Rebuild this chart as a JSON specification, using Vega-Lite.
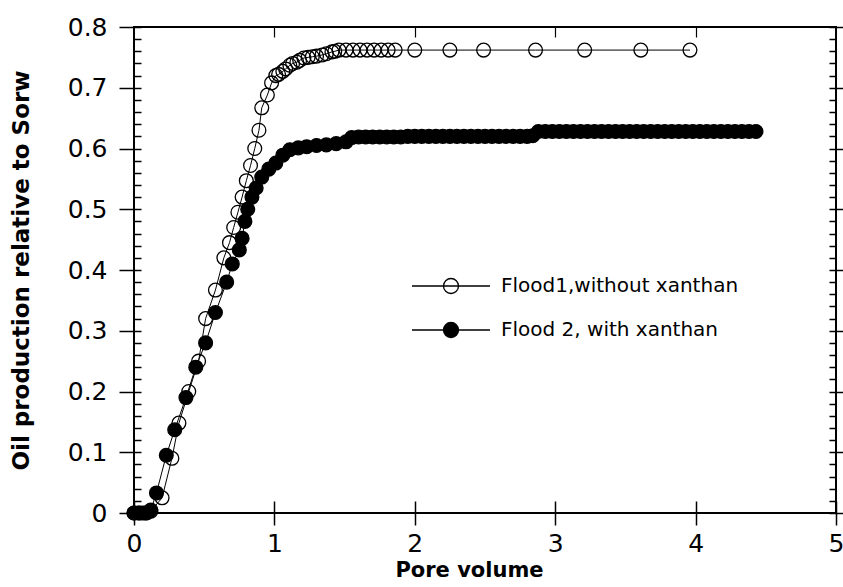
{
  "$schema": "https://vega.github.io/schema/vega-lite/v6.json",
  "width": 702,
  "height": 486,
  "autosize": "none",
  "padding": {"left": 134, "top": 27, "right": 7, "bottom": 74},
  "background": "white",
  "config": {
    "view": {"stroke": "black", "strokeWidth": 2},
    "axis": {"grid": false, "domain": false, "tickColor": "black", "labelColor": "black", "titleColor": "black", "labelFont": "DejaVu Sans", "titleFont": "DejaVu Sans", "labelOverlap": false, "labelBound": false, "labelFlush": false}
  },
  "data": {"values": [
    {"series": "Flood1,without xanthan", "pv": 0.00, "oil": 0.000},
    {"series": "Flood1,without xanthan", "pv": 0.04, "oil": 0.000},
    {"series": "Flood1,without xanthan", "pv": 0.08, "oil": 0.000},
    {"series": "Flood1,without xanthan", "pv": 0.12, "oil": 0.003},
    {"series": "Flood1,without xanthan", "pv": 0.20, "oil": 0.025},
    {"series": "Flood1,without xanthan", "pv": 0.27, "oil": 0.090},
    {"series": "Flood1,without xanthan", "pv": 0.32, "oil": 0.148},
    {"series": "Flood1,without xanthan", "pv": 0.39, "oil": 0.200},
    {"series": "Flood1,without xanthan", "pv": 0.46, "oil": 0.250},
    {"series": "Flood1,without xanthan", "pv": 0.51, "oil": 0.320},
    {"series": "Flood1,without xanthan", "pv": 0.58, "oil": 0.367},
    {"series": "Flood1,without xanthan", "pv": 0.64, "oil": 0.420},
    {"series": "Flood1,without xanthan", "pv": 0.68, "oil": 0.445},
    {"series": "Flood1,without xanthan", "pv": 0.71, "oil": 0.470},
    {"series": "Flood1,without xanthan", "pv": 0.74, "oil": 0.495},
    {"series": "Flood1,without xanthan", "pv": 0.77, "oil": 0.520},
    {"series": "Flood1,without xanthan", "pv": 0.80, "oil": 0.547},
    {"series": "Flood1,without xanthan", "pv": 0.83, "oil": 0.572},
    {"series": "Flood1,without xanthan", "pv": 0.86, "oil": 0.600},
    {"series": "Flood1,without xanthan", "pv": 0.89, "oil": 0.630},
    {"series": "Flood1,without xanthan", "pv": 0.91, "oil": 0.667},
    {"series": "Flood1,without xanthan", "pv": 0.95, "oil": 0.688},
    {"series": "Flood1,without xanthan", "pv": 0.98, "oil": 0.708},
    {"series": "Flood1,without xanthan", "pv": 1.01, "oil": 0.720},
    {"series": "Flood1,without xanthan", "pv": 1.03, "oil": 0.722},
    {"series": "Flood1,without xanthan", "pv": 1.06, "oil": 0.727},
    {"series": "Flood1,without xanthan", "pv": 1.08, "oil": 0.731},
    {"series": "Flood1,without xanthan", "pv": 1.11, "oil": 0.737},
    {"series": "Flood1,without xanthan", "pv": 1.13, "oil": 0.740},
    {"series": "Flood1,without xanthan", "pv": 1.16, "oil": 0.742},
    {"series": "Flood1,without xanthan", "pv": 1.18, "oil": 0.745},
    {"series": "Flood1,without xanthan", "pv": 1.21, "oil": 0.749},
    {"series": "Flood1,without xanthan", "pv": 1.24, "oil": 0.750},
    {"series": "Flood1,without xanthan", "pv": 1.27, "oil": 0.751},
    {"series": "Flood1,without xanthan", "pv": 1.30, "oil": 0.752},
    {"series": "Flood1,without xanthan", "pv": 1.34, "oil": 0.754},
    {"series": "Flood1,without xanthan", "pv": 1.37, "oil": 0.756},
    {"series": "Flood1,without xanthan", "pv": 1.41, "oil": 0.759},
    {"series": "Flood1,without xanthan", "pv": 1.43, "oil": 0.760},
    {"series": "Flood1,without xanthan", "pv": 1.46, "oil": 0.762},
    {"series": "Flood1,without xanthan", "pv": 1.51, "oil": 0.762},
    {"series": "Flood1,without xanthan", "pv": 1.56, "oil": 0.762},
    {"series": "Flood1,without xanthan", "pv": 1.61, "oil": 0.762},
    {"series": "Flood1,without xanthan", "pv": 1.66, "oil": 0.762},
    {"series": "Flood1,without xanthan", "pv": 1.71, "oil": 0.762},
    {"series": "Flood1,without xanthan", "pv": 1.76, "oil": 0.762},
    {"series": "Flood1,without xanthan", "pv": 1.81, "oil": 0.762},
    {"series": "Flood1,without xanthan", "pv": 1.86, "oil": 0.762},
    {"series": "Flood1,without xanthan", "pv": 2.00, "oil": 0.762},
    {"series": "Flood1,without xanthan", "pv": 2.25, "oil": 0.762},
    {"series": "Flood1,without xanthan", "pv": 2.49, "oil": 0.762},
    {"series": "Flood1,without xanthan", "pv": 2.86, "oil": 0.762},
    {"series": "Flood1,without xanthan", "pv": 3.21, "oil": 0.762},
    {"series": "Flood1,without xanthan", "pv": 3.61, "oil": 0.762},
    {"series": "Flood1,without xanthan", "pv": 3.96, "oil": 0.762},

    {"series": "Flood 2, with xanthan", "pv": 0.00, "oil": 0.000},
    {"series": "Flood 2, with xanthan", "pv": 0.03, "oil": 0.000},
    {"series": "Flood 2, with xanthan", "pv": 0.06, "oil": 0.000},
    {"series": "Flood 2, with xanthan", "pv": 0.09, "oil": 0.000},
    {"series": "Flood 2, with xanthan", "pv": 0.12, "oil": 0.005},
    {"series": "Flood 2, with xanthan", "pv": 0.16, "oil": 0.033},
    {"series": "Flood 2, with xanthan", "pv": 0.23, "oil": 0.095},
    {"series": "Flood 2, with xanthan", "pv": 0.29, "oil": 0.137},
    {"series": "Flood 2, with xanthan", "pv": 0.37, "oil": 0.190},
    {"series": "Flood 2, with xanthan", "pv": 0.44, "oil": 0.240},
    {"series": "Flood 2, with xanthan", "pv": 0.51, "oil": 0.280},
    {"series": "Flood 2, with xanthan", "pv": 0.58, "oil": 0.330},
    {"series": "Flood 2, with xanthan", "pv": 0.66, "oil": 0.380},
    {"series": "Flood 2, with xanthan", "pv": 0.70, "oil": 0.410},
    {"series": "Flood 2, with xanthan", "pv": 0.75, "oil": 0.433},
    {"series": "Flood 2, with xanthan", "pv": 0.77, "oil": 0.452},
    {"series": "Flood 2, with xanthan", "pv": 0.79, "oil": 0.480},
    {"series": "Flood 2, with xanthan", "pv": 0.81, "oil": 0.500},
    {"series": "Flood 2, with xanthan", "pv": 0.84, "oil": 0.520},
    {"series": "Flood 2, with xanthan", "pv": 0.87, "oil": 0.535},
    {"series": "Flood 2, with xanthan", "pv": 0.91, "oil": 0.553},
    {"series": "Flood 2, with xanthan", "pv": 0.96, "oil": 0.566},
    {"series": "Flood 2, with xanthan", "pv": 1.01, "oil": 0.576},
    {"series": "Flood 2, with xanthan", "pv": 1.06, "oil": 0.589},
    {"series": "Flood 2, with xanthan", "pv": 1.11, "oil": 0.598},
    {"series": "Flood 2, with xanthan", "pv": 1.17, "oil": 0.601},
    {"series": "Flood 2, with xanthan", "pv": 1.23, "oil": 0.603},
    {"series": "Flood 2, with xanthan", "pv": 1.30, "oil": 0.605},
    {"series": "Flood 2, with xanthan", "pv": 1.37, "oil": 0.606},
    {"series": "Flood 2, with xanthan", "pv": 1.44, "oil": 0.608},
    {"series": "Flood 2, with xanthan", "pv": 1.51, "oil": 0.611},
    {"series": "Flood 2, with xanthan", "pv": 1.55, "oil": 0.618},
    {"series": "Flood 2, with xanthan", "pv": 1.60, "oil": 0.619},
    {"series": "Flood 2, with xanthan", "pv": 1.65, "oil": 0.619},
    {"series": "Flood 2, with xanthan", "pv": 1.70, "oil": 0.619},
    {"series": "Flood 2, with xanthan", "pv": 1.75, "oil": 0.619},
    {"series": "Flood 2, with xanthan", "pv": 1.80, "oil": 0.619},
    {"series": "Flood 2, with xanthan", "pv": 1.85, "oil": 0.619},
    {"series": "Flood 2, with xanthan", "pv": 1.90, "oil": 0.619},
    {"series": "Flood 2, with xanthan", "pv": 1.95, "oil": 0.620},
    {"series": "Flood 2, with xanthan", "pv": 2.00, "oil": 0.620},
    {"series": "Flood 2, with xanthan", "pv": 2.05, "oil": 0.620},
    {"series": "Flood 2, with xanthan", "pv": 2.10, "oil": 0.620},
    {"series": "Flood 2, with xanthan", "pv": 2.15, "oil": 0.620},
    {"series": "Flood 2, with xanthan", "pv": 2.20, "oil": 0.620},
    {"series": "Flood 2, with xanthan", "pv": 2.25, "oil": 0.620},
    {"series": "Flood 2, with xanthan", "pv": 2.30, "oil": 0.620},
    {"series": "Flood 2, with xanthan", "pv": 2.35, "oil": 0.620},
    {"series": "Flood 2, with xanthan", "pv": 2.40, "oil": 0.620},
    {"series": "Flood 2, with xanthan", "pv": 2.45, "oil": 0.620},
    {"series": "Flood 2, with xanthan", "pv": 2.50, "oil": 0.620},
    {"series": "Flood 2, with xanthan", "pv": 2.55, "oil": 0.620},
    {"series": "Flood 2, with xanthan", "pv": 2.60, "oil": 0.620},
    {"series": "Flood 2, with xanthan", "pv": 2.65, "oil": 0.620},
    {"series": "Flood 2, with xanthan", "pv": 2.70, "oil": 0.620},
    {"series": "Flood 2, with xanthan", "pv": 2.75, "oil": 0.620},
    {"series": "Flood 2, with xanthan", "pv": 2.80, "oil": 0.620},
    {"series": "Flood 2, with xanthan", "pv": 2.84, "oil": 0.621},
    {"series": "Flood 2, with xanthan", "pv": 2.88, "oil": 0.628},
    {"series": "Flood 2, with xanthan", "pv": 2.93, "oil": 0.628},
    {"series": "Flood 2, with xanthan", "pv": 2.98, "oil": 0.628},
    {"series": "Flood 2, with xanthan", "pv": 3.03, "oil": 0.628},
    {"series": "Flood 2, with xanthan", "pv": 3.08, "oil": 0.628},
    {"series": "Flood 2, with xanthan", "pv": 3.13, "oil": 0.628},
    {"series": "Flood 2, with xanthan", "pv": 3.18, "oil": 0.628},
    {"series": "Flood 2, with xanthan", "pv": 3.23, "oil": 0.628},
    {"series": "Flood 2, with xanthan", "pv": 3.28, "oil": 0.628},
    {"series": "Flood 2, with xanthan", "pv": 3.33, "oil": 0.628},
    {"series": "Flood 2, with xanthan", "pv": 3.38, "oil": 0.628},
    {"series": "Flood 2, with xanthan", "pv": 3.43, "oil": 0.628},
    {"series": "Flood 2, with xanthan", "pv": 3.48, "oil": 0.628},
    {"series": "Flood 2, with xanthan", "pv": 3.53, "oil": 0.628},
    {"series": "Flood 2, with xanthan", "pv": 3.58, "oil": 0.628},
    {"series": "Flood 2, with xanthan", "pv": 3.63, "oil": 0.628},
    {"series": "Flood 2, with xanthan", "pv": 3.68, "oil": 0.628},
    {"series": "Flood 2, with xanthan", "pv": 3.73, "oil": 0.628},
    {"series": "Flood 2, with xanthan", "pv": 3.78, "oil": 0.628},
    {"series": "Flood 2, with xanthan", "pv": 3.83, "oil": 0.628},
    {"series": "Flood 2, with xanthan", "pv": 3.88, "oil": 0.628},
    {"series": "Flood 2, with xanthan", "pv": 3.93, "oil": 0.628},
    {"series": "Flood 2, with xanthan", "pv": 3.98, "oil": 0.628},
    {"series": "Flood 2, with xanthan", "pv": 4.03, "oil": 0.628},
    {"series": "Flood 2, with xanthan", "pv": 4.08, "oil": 0.628},
    {"series": "Flood 2, with xanthan", "pv": 4.13, "oil": 0.628},
    {"series": "Flood 2, with xanthan", "pv": 4.18, "oil": 0.628},
    {"series": "Flood 2, with xanthan", "pv": 4.23, "oil": 0.628},
    {"series": "Flood 2, with xanthan", "pv": 4.28, "oil": 0.628},
    {"series": "Flood 2, with xanthan", "pv": 4.33, "oil": 0.628},
    {"series": "Flood 2, with xanthan", "pv": 4.38, "oil": 0.628},
    {"series": "Flood 2, with xanthan", "pv": 4.43, "oil": 0.628}
  ]},
  "resolve": {"axis": {"x": "independent", "y": "independent"}},
  "layer": [
    {
      "mark": {"type": "line", "color": "black", "strokeWidth": 1},
      "encoding": {
        "x": {"field": "pv", "type": "quantitative", "scale": {"domain": [0, 5], "nice": false, "zero": false},
          "axis": {"orient": "bottom", "values": [0, 1, 2, 3, 4, 5], "offset": -12, "tickSize": 24, "tickWidth": 1.5,
            "labelFontSize": 25, "labelPadding": 6, "title": "Pore volume", "titleFontSize": 21, "titleFontWeight": "bold", "titlePadding": 3, "titleX": 335}},
        "y": {"field": "oil", "type": "quantitative", "scale": {"domain": [0, 0.8], "nice": false, "zero": false},
          "axis": {"orient": "left", "offset": -7,
            "values": [0, 0.02, 0.04, 0.06, 0.08, 0.1, 0.12, 0.14, 0.16, 0.18, 0.2, 0.22, 0.24, 0.26, 0.28, 0.3, 0.32, 0.34, 0.36, 0.38, 0.4, 0.42, 0.44, 0.46, 0.48, 0.5, 0.52, 0.54, 0.56, 0.58, 0.6, 0.62, 0.64, 0.66, 0.68, 0.7, 0.72, 0.74, 0.76, 0.78, 0.8],
            "tickSize": {"condition": {"test": "abs(datum.value*10 - round(datum.value*10)) < 0.001", "value": 22}, "value": 7},
            "tickWidth": 1.5,
            "labelExpr": "abs(datum.value*10 - round(datum.value*10)) < 0.001 ? format(datum.value, '.1~f') : ''",
            "labelFontSize": 25, "labelPadding": 12,
            "title": "Oil production relative to Sorw", "titleFontSize": 23, "titleFontWeight": "bold", "titlePadding": 34}},
        "detail": {"field": "series", "type": "nominal"}
      }
    },
    {
      "mark": {"type": "point", "shape": "circle", "size": 190, "stroke": "black", "strokeWidth": 1.3, "opacity": 1, "fillOpacity": 1},
      "encoding": {
        "x": {"field": "pv", "type": "quantitative",
          "axis": {"orient": "top", "values": [1, 2, 3, 4], "offset": -10, "tickSize": 10, "tickWidth": 1.2, "labels": false, "title": null}},
        "y": {"field": "oil", "type": "quantitative",
          "axis": {"orient": "right", "offset": -7,
            "values": [0, 0.02, 0.04, 0.06, 0.08, 0.1, 0.12, 0.14, 0.16, 0.18, 0.2, 0.22, 0.24, 0.26, 0.28, 0.3, 0.32, 0.34, 0.36, 0.38, 0.4, 0.42, 0.44, 0.46, 0.48, 0.5, 0.52, 0.54, 0.56, 0.58, 0.6, 0.62, 0.64, 0.66, 0.68, 0.7, 0.72, 0.74, 0.76, 0.78, 0.8],
            "tickSize": {"condition": {"test": "abs(datum.value*10 - round(datum.value*10)) < 0.001", "value": 22}, "value": 7},
            "tickWidth": 1.5, "labels": false, "title": null}},
        "fill": {"field": "series", "type": "nominal",
          "scale": {"domain": ["Flood1,without xanthan", "Flood 2, with xanthan"], "range": ["transparent", "black"]},
          "legend": {"title": null, "orient": "none", "legendX": 307, "legendY": 249,
            "symbolType": "M-5.2,0H5.2M1,0A1,1 0 1,1 -1,0A1,1 0 1,1 1,0Z",
            "symbolSize": 225, "symbolStrokeColor": "black", "symbolStrokeWidth": 1.3,
            "labelFont": "DejaVu Sans", "labelFontSize": 20, "labelColor": "black", "labelOffset": 40, "labelLimit": 400, "rowPadding": 22}}
      }
    }
  ]
}
